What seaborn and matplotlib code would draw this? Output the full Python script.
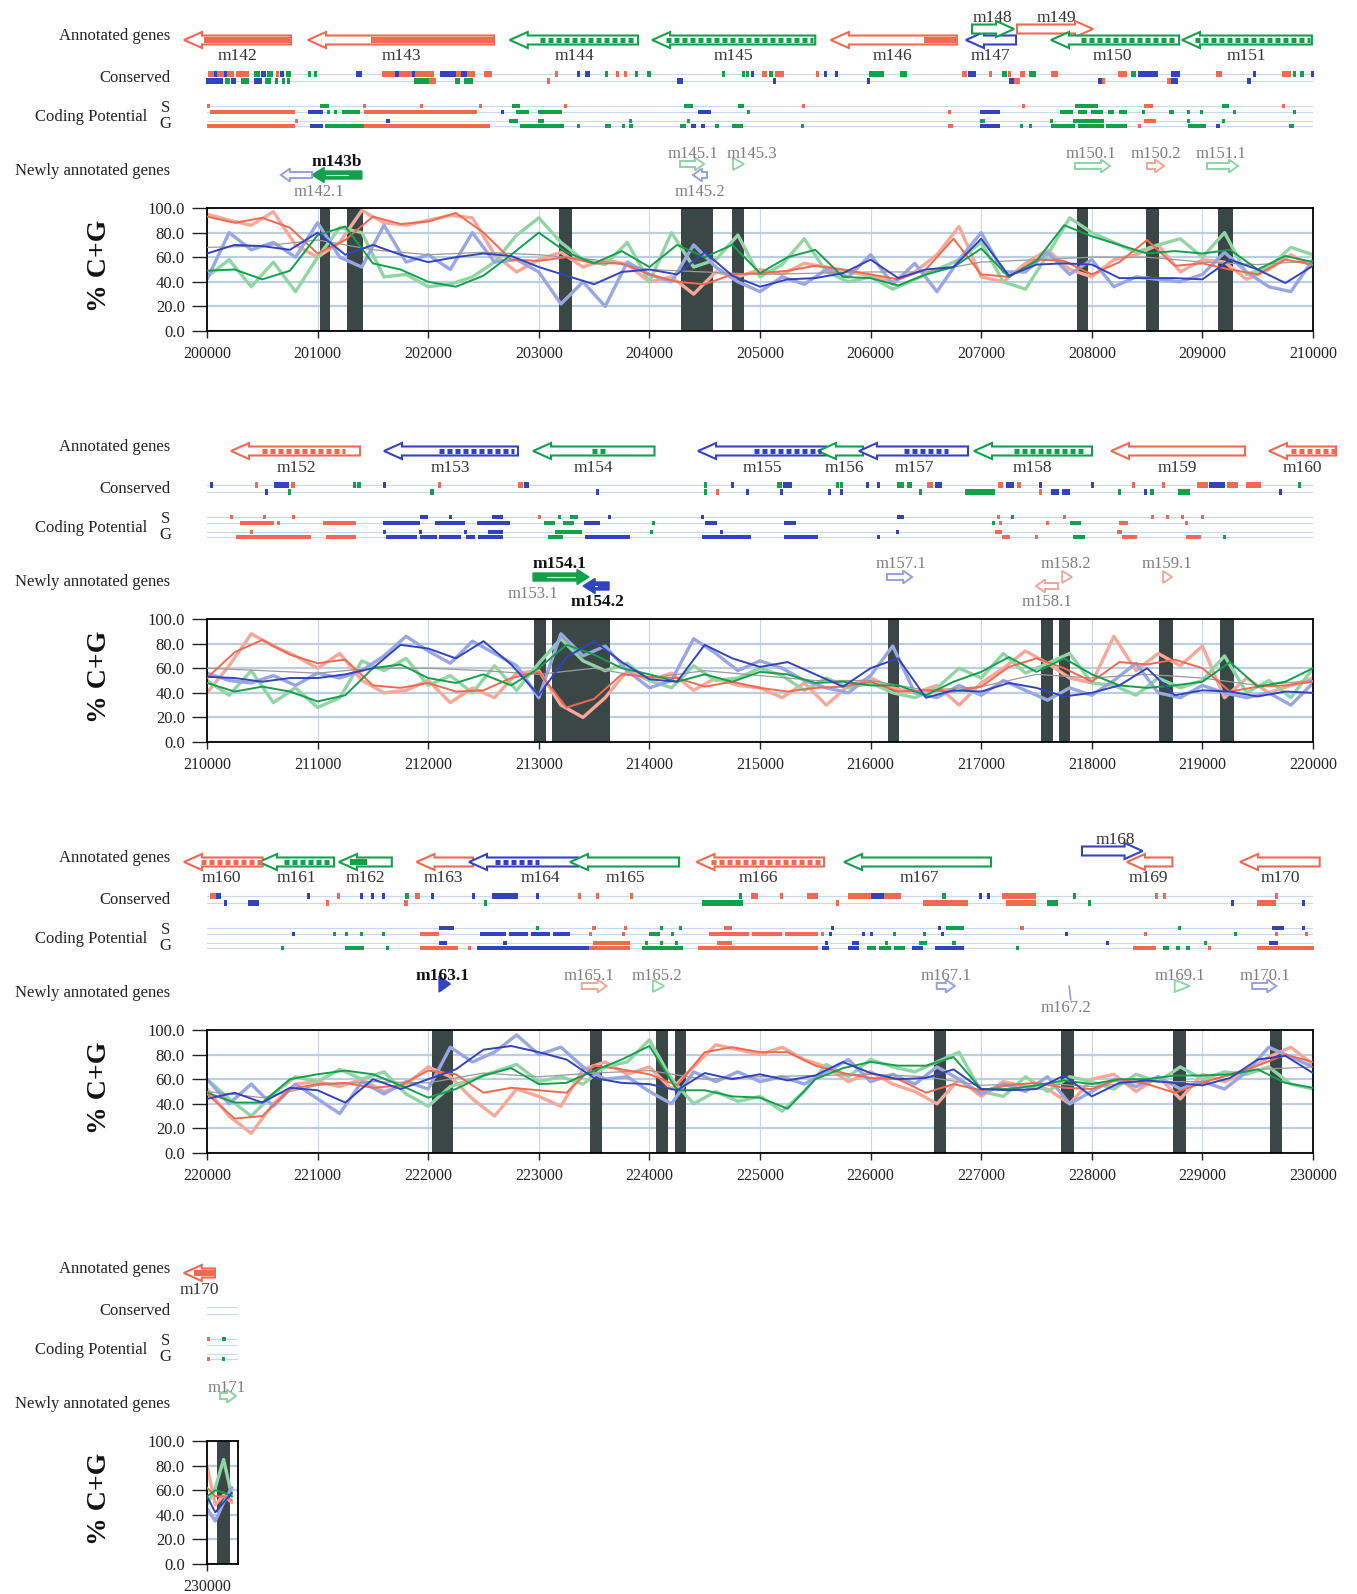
import numpy as np
import pandas as pd
import matplotlib
matplotlib.use("Agg")
import matplotlib.pyplot as plt
from matplotlib.patches import Polygon, Rectangle
import seaborn as sns

W, H = 1357, 1594

# ======================= DATA =======================
PANEL_STARTS = [200000, 210000, 220000, 230000]
PANEL_ENDS = [210000, 220000, 230000, 230280]
RAW_STEP, SMOOTH_STEP, GRAY_STEP = 200, 250, 500
Y_TICKS = [0, 20, 40, 60, 80, 100]

# ---- panel 1 : 200000-210000 ----
P1_RED_SMOOTH = [93,88,92,84,63,74,93,87,89,96, 80,58,57,60,55,55,46,40,38,46,
                 47,49,53,50,46,42,50,75,46,44, 58,57,46,56,74,53,55,50,46,58, 54]
P1_BLUE_SMOOTH = [63,70,69,66,80,62,70,62,56,60, 63,61,52,45,38,48,50,46,64,45,
                  36,42,43,47,58,43,50,52,75,45, 54,55,54,43,43,43,42,58,50,39, 53]
P1_GREEN_SMOOTH = [49,50,42,49,78,85,55,50,40,36, 45,62,80,64,55,65,52,70,60,70,
                   47,60,66,44,43,37,46,52,67,44, 57,86,77,70,63,65,63,66,50,61, 56]
P1_RED_RAW = [95,90,86,97,70,60,72,98,88,86, 90,94,92,62,48,58,64,52,58,54,
              40,44,30,48,44,50,46,55,52,48, 45,40,48,62,85,44,40,55,66,50,
              44,58,62,70,48,58,56,42,50,62, 52]
P1_BLUE_RAW = [42,80,66,72,60,88,60,52,86,56, 62,50,80,56,58,48,22,40,20,56,
               46,40,70,52,40,32,44,38,50,44, 62,38,55,32,58,80,48,48,64,46,
               58,36,44,42,40,46,64,48,36,32, 58]
P1_GREEN_RAW = [44,58,36,56,32,60,84,80,44,46, 36,38,44,56,78,92,72,58,54,72,
                40,80,52,58,78,44,54,75,48,40, 44,34,42,50,58,72,40,34,62,92,
                80,72,64,70,75,60,80,46,52,68, 62]
P1_GRAY = [68,69,74,66,62,64,62,58,50,48, 46,47,48,48,56,58,60,60,56,54, 57]
P1_BANDS = [(201018,201116),(201265,201414),(203186,203296),(204285,204578),
            (204750,204859),(207865,207962),(208488,208608),(209139,209279)]

# ---- panel 2 : 210000-220000 ----
P2_RED_SMOOTH = [52,73,83,71,64,67,46,44,48,41, 42,52,57,28,35,55,53,52,45,49,
                 44,41,44,45,49,41,42,41,45,61, 68,60,49,65,63,67,60,41,45,46, 49]
P2_BLUE_SMOOTH = [53,52,49,52,52,55,60,79,76,68, 82,63,38,69,82,65,51,49,79,68,
                  61,65,55,45,60,68,36,42,41,48, 44,37,40,46,60,38,42,41,37,41, 40]
P2_GREEN_SMOOTH = [48,41,45,41,33,38,60,63,52,48, 55,46,60,79,71,60,55,49,55,49,
                   57,55,48,49,46,46,38,49,57,69, 57,68,55,46,44,46,49,65,45,49, 60]
P2_RED_RAW = [40,62,88,78,70,60,72,50,40,42, 50,32,44,36,56,58,30,20,36,58,
              50,56,42,52,46,44,36,48,30,46, 52,44,40,46,30,48,60,74,64,52,
              48,86,58,72,62,78,36,52,40,46, 52]
P2_BLUE_RAW = [56,50,48,54,46,56,52,58,70,86, 74,64,82,72,62,36,88,70,78,58,
               44,50,84,72,58,66,60,50,44,40, 54,78,40,36,46,38,50,42,34,44,
               38,50,64,40,36,46,40,36,40,30, 48]
P2_GREEN_RAW = [50,38,58,32,44,28,36,66,58,68, 46,54,40,62,42,64,84,66,58,64,
                50,44,62,50,52,60,54,42,52,44, 48,40,36,44,60,52,72,56,64,72,
                48,46,38,52,44,50,70,40,50,36, 60]
P2_GRAY = [60,58,56,60,60,58,55,60,52,58, 54,50,50,42,45,55,52,55,52,46, 50]
P2_BANDS = [(212957,213069),(213121,213647),(216159,216258),(217540,217652),
            (217704,217803),(218605,218737),(219163,219282)]

# ---- panel 3 : 220000-230000 ----
P3_RED_SMOOTH = [48,28,30,52,56,57,53,55,67,64, 49,53,51,49,71,68,64,55,82,86,
                 82,82,71,65,61,60,49,56,51,55, 57,53,52,60,56,49,57,64,71,80, 74]
P3_BLUE_SMOOTH = [44,49,41,53,51,41,60,52,60,68, 84,87,82,76,61,57,56,51,65,60,
                  64,59,63,74,65,60,61,68,52,51, 52,63,46,57,59,57,55,61,76,79, 65]
P3_GREEN_SMOOTH = [49,41,41,60,64,67,64,55,45,52, 63,69,56,57,67,76,87,51,51,46,
                   45,36,60,69,74,71,71,78,52,52, 55,59,56,60,60,63,63,64,68,57, 53]
P3_RED_RAW = [52,30,16,40,56,58,54,60,50,56, 70,62,44,30,52,46,38,68,74,64,
              70,52,70,88,84,80,86,76,70,58, 66,56,50,40,60,46,58,54,52,40,
              60,64,50,62,44,64,58,66,78,86, 72]
P3_BLUE_RAW = [60,40,56,38,56,44,32,58,48,58, 52,86,74,82,96,80,86,70,60,62,
               50,40,66,58,66,58,62,56,66,76, 58,64,56,70,60,48,56,50,62,40,
               50,60,54,62,52,58,52,66,86,78, 70]
P3_GREEN_RAW = [60,44,30,48,62,58,68,60,66,48, 38,54,60,66,72,58,62,56,70,74,
                92,60,40,50,42,46,34,50,72,62, 76,70,66,74,82,50,46,62,50,62,
                58,52,64,58,70,60,66,64,70,56, 52]
P3_GRAY = [50,45,55,58,57,65,62,65,67,60, 62,63,64,62,55,57,54,58,58,68, 70]
P3_BANDS = [(222030,222227),(223463,223575),(224061,224166),(224232,224331),
            (226573,226686),(227717,227843),(228737,228855),(229611,229723)]

# ---- panel 4 : 230000-230280 ----
P4_POS = [230000, 230075, 230150, 230225]
P4_RED_RAW = [80, 48, 56, 50]
P4_RED_SMOOTH = [62, 55, 55, 52]
P4_BLUE_RAW = [45, 35, 50, 62]
P4_BLUE_SMOOTH = [55, 42, 50, 58]
P4_GREEN_RAW = [48, 62, 85, 55]
P4_GREEN_SMOOTH = [55, 60, 58, 55]
P4_BANDS = [(230090, 230210)]

# ---- annotated genes: (name, left, right, strand, colour, fill_left, fill_right, fill, row, label_x)
P1_GENES = [
    ('m142', 199792, 200760, '-', 'r', 199973, 200760, 'solid', 0, 200280),
    ('m143', 200913, 202595, '-', 'r', 201483, 202595, 'solid', 0, 201754),
    ('m144', 202737, 203897, '-', 'g', 203010, 203870, 'dash', 0, 203326),
    ('m145', 204025, 205500, '-', 'g', 204150, 205480, 'dash', 0, 204756),
    ('m146', 205640, 206780, '-', 'r', 206480, 206780, 'solid', 0, 206200),
    ('m147', 206862, 207315, '-', 'b', 0, 0, 'none', 0, 207080),
    ('m148', 206917, 207297, '+', 'g', 0, 0, 'none', 1, 207100),
    ('m149', 207324, 208011, '+', 'r', 0, 0, 'none', 1, 207676),
    ('m150', 207631, 208789, '-', 'g', 207900, 208770, 'dash', 0, 208190),
    ('m151', 208815, 209990, '-', 'g', 208930, 209970, 'dash', 0, 209400),
]
P2_GENES = [
    ('m152', 210217, 211383, '-', 'r', 210500, 211250, 'dash', 0, 210805),
    ('m153', 211600, 212812, '-', 'b', 212100, 212780, 'dash', 0, 212197),
    ('m154', 212948, 214046, '-', 'g', 213480, 213600, 'dash', 0, 213490),
    ('m155', 214440, 215597, '-', 'b', 214950, 215550, 'dash', 0, 215018),
    ('m156', 215524, 215931, '-', 'g', 0, 0, 'none', 0, 215760),
    ('m157', 215895, 216881, '-', 'b', 216300, 216700, 'dash', 0, 216393),
    ('m158', 216935, 218002, '-', 'g', 217300, 217950, 'dash', 0, 217459),
    ('m159', 218174, 219385, '-', 'r', 0, 0, 'none', 0, 218770),
    ('m160', 219602, 220208, '-', 'r', 219800, 220208, 'dash', 0, 219900),
]
P3_GENES = [
    ('m160', 219792, 220503, '-', 'r', 219950, 220503, 'dash', 0, 220126),
    ('m161', 220470, 221148, '-', 'g', 220700, 221120, 'dash', 0, 220805),
    ('m162', 221193, 221671, '-', 'g', 221290, 221450, 'solid', 0, 221437),
    ('m163', 221894, 222405, '-', 'r', 0, 0, 'none', 0, 222134),
    ('m164', 222369, 223354, '-', 'b', 222600, 223000, 'dash', 0, 223011),
    ('m165', 223282, 224268, '-', 'g', 0, 0, 'none', 0, 223779),
    ('m166', 224426, 225579, '-', 'r', 224560, 225560, 'dash', 0, 224982),
    ('m167', 225760, 227089, '-', 'g', 0, 0, 'none', 0, 226442),
    ('m168', 227911, 228459, '+', 'b', 0, 0, 'none', 1, 228210),
    ('m169', 228318, 228729, '-', 'r', 0, 0, 'none', 0, 228513),
    ('m170', 229340, 230060, '-', 'r', 0, 0, 'none', 0, 229702),
]
P4_GENES = [
    ('m170', 229790, 230072, '-', 'r', 229880, 230072, 'solid', 0, 229928),
]

# ---- conserved elements (start, end, colour) ----
P1_CONS_TOP = [(200011,200060,'r'),(200060,200090,'b'),(200090,200150,'r'),(200150,200170,'b'),
    (200170,200246,'r'),(200265,200383,'r'),(200422,200480,'g'),(200490,200530,'b'),(200540,200600,'g'),
    (200620,200650,'r'),(200660,200700,'b'),(200710,200755,'g'),(200912,200940,'g'),(200965,200991,'g'),
    (201343,201402,'b'),(201579,201700,'r'),(201700,201740,'b'),(201740,201850,'r'),(201850,201880,'b'),
    (201880,202050,'r'),(202108,202250,'b'),(202250,202300,'r'),(202300,202350,'b'),(202350,202421,'r'),
    (202500,202578,'r'),(203147,203170,'r'),(203344,203360,'b'),(203420,203461,'b'),(203598,203620,'g'),
    (203696,203720,'r'),(203770,203794,'r'),(203873,203900,'g'),(203980,204010,'g'),(204656,204680,'g'),
    (204840,204858,'g'),(204870,204885,'g'),(204919,204940,'b'),(205018,205060,'r'),(205080,205120,'g'),
    (205140,205217,'r'),(205506,205525,'r'),(205579,205595,'b'),(205680,205695,'b'),(205985,206121,'g'),
    (206266,206329,'g'),(206826,206870,'r'),(206880,206953,'b'),(207071,207085,'r'),(207189,207230,'g'),
    (207240,207270,'r'),(207351,207400,'r'),(207430,207496,'g'),(207631,207694,'r'),(208237,208318,'r'),
    (208354,208400,'g'),(208420,208599,'b'),(208716,208797,'b'),(209123,209177,'r'),(209457,209475,'b'),
    (209720,209800,'r'),(209820,209850,'g'),(209880,209918,'g'),(209982,210000,'b')]
P1_CONS_BOT = [(199990,200147,'b'),(200167,200210,'g'),(200220,200265,'b'),(200305,200383,'g'),
    (200422,200500,'b'),(200520,200579,'g'),(200618,200640,'g'),(200680,200700,'g'),(200720,200736,'g'),
    (201873,202010,'g'),(202010,202070,'r'),(202245,202290,'g'),(202325,202405,'g'),(203076,203095,'r'),
    (204250,204300,'b'),(205118,205140,'b'),(205967,205985,'b'),(207252,207300,'b'),(207300,207351,'r'),
    (208056,208090,'b'),(208090,208110,'r'),(208680,208720,'r'),(208720,208779,'b'),(209403,209439,'b')]
P2_CONS_TOP = [(210027,210050,'b'),(210434,210450,'r'),(210606,210741,'b'),(210760,210800,'r'),
    (211320,211345,'g'),(211360,211380,'g'),(211591,211610,'b'),(212090,212115,'r'),(212812,212860,'r'),
    (212870,212911,'b'),(214495,214510,'g'),(214740,214760,'b'),(215154,215200,'g'),(215210,215290,'b'),
    (215690,215700,'g'),(215725,215740,'g'),(215960,215980,'b'),(216060,216080,'b'),(216239,216300,'g'),
    (216330,216375,'g'),(216510,216560,'r'),(216580,216646,'b'),(217152,217200,'r'),(217220,217300,'b'),
    (217320,217360,'r'),(217525,217540,'b'),(217995,218010,'b'),(218365,218385,'r'),(218635,218655,'r'),
    (218951,219050,'r'),(219060,219200,'b'),(219220,219322,'r'),(219394,219530,'r'),(219865,219880,'g')]
P2_CONS_BOT = [(210525,210545,'b'),(210735,210760,'g'),(212020,212045,'g'),(213520,213540,'b'),
    (214495,214510,'g'),(214605,214625,'r'),(214875,214895,'b'),(215180,215200,'b'),(215618,215635,'b'),
    (215725,215740,'b'),(216435,216450,'g'),(216853,217121,'g'),(217525,217545,'r'),(217631,217700,'b'),
    (217730,217803,'b'),(218235,218255,'g'),(218475,218490,'b'),(218530,218545,'g'),(218779,218888,'g'),
    (219695,219715,'b')]
P3_CONS_TOP = [(220028,220080,'r'),(220080,220129,'b'),(220905,220920,'b'),(221175,221190,'r'),
    (221380,221395,'b'),(221480,221495,'b'),(221585,221600,'b'),(221792,221830,'g'),(221880,221928,'r'),
    (222025,222040,'b'),(222398,222410,'b'),(222573,222811,'b'),(222975,222990,'b'),(223350,223362,'r'),
    (223518,223530,'r'),(223825,223840,'r'),(224808,224820,'g'),(224915,224983,'r'),(225180,225195,'r'),
    (225424,225526,'r'),(225797,226000,'r'),(226000,226120,'b'),(226120,226273,'r'),(226646,226680,'g'),
    (226980,226995,'b'),(227048,227062,'b'),(227189,227495,'r'),(227830,227845,'g'),(228575,228590,'r'),
    (228643,228655,'r'),(229660,229675,'r')]
P3_CONS_BOT = [(220155,220180,'b'),(220367,220469,'b'),(221075,221090,'r'),(221785,221800,'r'),
    (222500,222515,'g'),(224474,224847,'g'),(225690,225705,'r'),(226476,226883,'r'),(227223,227495,'r'),
    (227596,227698,'g'),(227965,227980,'g'),(229255,229270,'b'),(229497,229667,'r'),(229900,229915,'b')]
P4_CONS_TOP = []
P4_CONS_BOT = []

# ---- coding potential rows S1, S2, G1, G2 (start, end, colour) ----
P1_S1 = [(200000,200030,'r'),(201026,201104,'g'),(201414,201440,'r'),(201924,201945,'r'),(202460,202480,'r'),
    (202755,202833,'g'),(203225,203245,'r'),(204313,204394,'g'),(204801,204856,'g'),(205380,205400,'r'),
    (207369,207390,'r'),(207848,208056,'g'),(208472,208553,'r'),(209177,209240,'g'),(209720,209750,'r')]
P1_S2 = [(200030,200795,'r'),(200912,201049,'b'),(201088,201110,'g'),(201147,201170,'g'),(201225,201382,'g'),
    (201421,202440,'r'),(202657,202680,'b'),(202794,202912,'g'),(202990,203206,'g'),(204439,204557,'b'),
    (204883,204900,'g'),(206700,206730,'r'),(206989,207170,'b'),(207712,207830,'g'),(207875,207960,'g'),
    (207990,208100,'g'),(208150,208200,'g'),(208250,208318,'g'),(208450,208470,'g'),(208700,208740,'g'),
    (208860,208890,'g'),(208980,209000,'g'),(209280,209300,'g'),(209820,209840,'g')]
P1_G1 = [(200795,200815,'r'),(201618,201657,'b'),(202735,202814,'g'),(202990,203049,'g'),(203814,203830,'g'),
    (204340,204360,'g'),(206990,207030,'g'),(207620,207640,'g'),(207830,208110,'g'),(208472,208580,'r'),
    (208860,208880,'g'),(209177,209195,'g')]
P1_G2 = [(200003,200795,'r'),(200932,201049,'b'),(201069,201421,'g'),(201421,202559,'r'),(202833,203225,'g'),
    (203343,203360,'g'),(203598,203657,'g'),(203755,203770,'g'),(203814,203853,'g'),(204277,204330,'g'),
    (204380,204420,'b'),(204470,204500,'b'),(204590,204630,'g'),(204750,204850,'g'),(205370,205390,'g'),
    (206700,206745,'r'),(206989,207170,'b'),(207350,207380,'g'),(207430,207460,'g'),(207631,207848,'g'),
    (207875,208110,'g'),(208130,208318,'g'),(208420,208440,'r'),(208870,209030,'g'),(209120,209160,'b'),
    (209780,209830,'g')]
P2_S1 = [(210210,210230,'r'),(210505,210525,'r'),(210770,210790,'r'),(211926,211998,'b'),(212190,212210,'b'),
    (212573,212674,'b'),(212995,213015,'r'),(213175,213195,'g'),(213282,213354,'g'),(213628,213645,'b'),
    (214470,214490,'b'),(216239,216303,'b'),(217145,217165,'r'),(217270,217290,'g'),(217740,217760,'r'),
    (218535,218555,'r'),(218672,218690,'r'),(218808,218825,'r'),(218988,219005,'r')]
P2_S2 = [(210298,210606,'r'),(210635,210655,'r'),(211049,211347,'r'),(211591,211926,'b'),(212062,212333,'b'),
    (212437,212740,'b'),(213047,213147,'g'),(213219,213318,'g'),(213409,213553,'b'),(214025,214040,'g'),
    (214507,214611,'b'),(215217,215326,'b'),(217100,217120,'g'),(217162,217180,'r'),(217588,217605,'r'),
    (217803,217902,'g'),(218242,218323,'r'),(218845,218860,'r')]
P2_G1 = [(210390,210410,'r'),(211592,211610,'b'),(211918,211935,'b'),(212325,212340,'b'),(212541,212677,'b'),
    (213147,213391,'g'),(214008,214022,'g'),(214640,214655,'b'),(216232,216248,'b'),(217125,217188,'r'),
    (218228,218273,'r')]
P2_G2 = [(210262,210940,'r'),(211076,211347,'r'),(211618,211900,'b'),(211930,212080,'b'),(212100,212300,'b'),
    (212340,212420,'b'),(212450,212676,'b'),(213083,213219,'g'),(213418,213825,'b'),(214476,214915,'b'),
    (215217,215524,'b'),(216060,216075,'b'),(217188,217260,'r'),(217490,217505,'r'),(217830,217938,'g'),
    (218273,218408,'r'),(218852,218987,'r'),(219185,219200,'g')]
P3_S1 = [(222098,222234,'b'),(222975,222990,'g'),(223485,223500,'r'),(223770,223785,'r'),(224095,224110,'g'),
    (224265,224280,'g'),(224677,224745,'r'),(225640,225660,'b'),(226612,226630,'b'),(226680,226849,'g'),
    (227355,227370,'r'),(228780,228795,'g'),(229633,229735,'b'),(229900,229915,'b')]
P3_S2 = [(220770,220785,'b'),(221140,221155,'g'),(221245,221260,'g'),(221380,221395,'g'),(221585,221600,'g'),
    (221928,222098,'r'),(222471,222700,'b'),(222730,222900,'b'),(222930,223100,'b'),(223130,223286,'b'),
    (223450,223465,'r'),(223755,223770,'r'),(223999,224100,'g'),(224195,224210,'g'),(224541,224900,'r'),
    (224930,225200,'r'),(225230,225526,'r'),(225555,225570,'r'),(225620,225635,'b'),(225925,225940,'b'),
    (225995,226010,'b'),(226200,226215,'g'),(226470,226485,'g'),(226640,226655,'b'),(227760,227775,'b'),
    (228470,228485,'r'),(229285,229300,'g'),(229660,229675,'r'),(229930,229945,'r')]
P3_G1 = [(222098,222166,'b'),(222675,222709,'b'),(223489,223829,'r'),(223958,223972,'g'),(224095,224105,'g'),
    (224230,224242,'g'),(224609,224745,'r'),(225588,225600,'b'),(225831,225899,'b'),(226130,226145,'g'),
    (226442,226510,'g'),(226740,226755,'g'),(228132,228146,'b'),(229015,229030,'g'),(229599,229680,'b')]
P3_G2 = [(220665,220680,'g'),(221249,221419,'g'),(221615,221630,'g'),(221928,222268,'r'),(222362,222376,'r'),
    (222437,223455,'b'),(223455,223829,'r'),(223931,224304,'g'),(224440,225526,'r'),(225560,225628,'b'),
    (225797,225899,'b'),(225967,226050,'g'),(226080,226180,'g'),(226210,226307,'g'),(226374,226476,'b'),
    (226578,226849,'b'),(227318,227332,'g'),(228376,228580,'r'),(228648,228700,'g'),(228760,228800,'g'),
    (228850,228886,'g'),(229050,229065,'r'),(229497,230006,'r')]
P4_S1 = [(230000,230020,'r'),(230140,230155,'g')]
P4_S2 = []
P4_G1 = []
P4_G2 = [(230000,230015,'r'),(230135,230160,'g')]

# ---- newly annotated genes: (name, left, right, strand, colour, style, y_arrow, label_x, label_y, bold)
P1_NEW = [
    ('m143b', 200950, 201400, '-', 'g', 'solid', 175, 201175, 160, True),
    ('m142.1', 200669, 200950, '-', 'b', 'light', 175, 201013, 191, False),
    ('m145.1', 204277, 204494, '+', 'g', 'light', 164, 204394, 153, False),
    ('m145.3', 204756, 204856, '+', 'g', 'head', 164, 204930, 153, False),
    ('m145.2', 204394, 204521, '-', 'b', 'light', 175, 204458, 190, False),
    ('m150.1', 207848, 208165, '+', 'g', 'light', 166, 207993, 153, False),
    ('m150.2', 208499, 208653, '+', 'r', 'light', 166, 208580, 153, False),
    ('m151.1', 209042, 209322, '+', 'g', 'light', 166, 209168, 153, False),
]
P2_NEW = [
    ('m154.1', 212948, 213454, '+', 'g', 'solid', 166, 213183, 151, True),
    ('m154.2', 213400, 213635, '-', 'b', 'solid', 175, 213526, 189, True),
    ('m153.1', 0, 0, '+', 'r', 'none', 181, 212948, 181, False),
    ('m157.1', 216148, 216375, '+', 'b', 'light', 166, 216275, 152, False),
    ('m158.2', 217731, 217821, '+', 'r', 'head', 166, 217767, 152, False),
    ('m158.1', 217496, 217695, '-', 'r', 'light', 175, 217595, 189, False),
    ('m159.1', 218644, 218725, '+', 'r', 'head', 166, 218680, 152, False),
]
P3_NEW = [
    ('m163.1', 222098, 222200, '+', 'b', 'solidhead', 162, 222132, 153, True),
    ('m165.1', 223388, 223612, '+', 'r', 'light', 164, 223455, 153, False),
    ('m165.2', 224032, 224134, '+', 'g', 'head', 164, 224066, 153, False),
    ('m167.1', 226598, 226761, '+', 'b', 'light', 164, 226680, 153, False),
    ('m167.2', 227795, 227810, '-', 'b', 'thin', 171, 227766, 185, False),
    ('m169.1', 228750, 228886, '+', 'g', 'head', 164, 228797, 153, False),
    ('m170.1', 229450, 229667, '+', 'b', 'light', 164, 229565, 153, False),
]
P4_NEW = [
    ('m171', 230118, 230262, '+', 'g', 'light', 163, 230180, 153, False),
]

TRACK_LABELS = ['Annotated genes', 'Conserved', 'Coding Potential', 'Newly annotated genes']

# ======================= STYLE =======================
sns.set_theme(style='white')
plt.rcParams['font.family'] = ['Liberation Serif', 'DejaVu Serif']
plt.rcParams['axes.unicode_minus'] = False

COL = {'r': '#ef6a50', 'g': '#13a04b', 'b': '#3244bd'}
RAWC = {'r': '#f7a898', 'g': '#92d5a4', 'b': '#98a6e4'}
LIGHT = {'r': '#f5a594', 'g': '#8fd3a2', 'b': '#93a1e2'}
BAND = '#3b4747'
ROWLINE = '#c9d8ea'
BP_PX = 10000 / 1106.0
PANEL_DY = 411
MIN_W = 28
BASE_OFF = 5.5   # pixel offset from visual text centre to baseline

def fx(px):
    return px / W

def fy(py):
    return 1 - py / H

def arrow_poly(left, right, strand, yc, sh, hh, hl):
    hl = min(hl, right - left)
    if strand == '+':
        b = right - hl
        return [(left, yc - sh), (b, yc - sh), (b, yc - hh), (right, yc),
                (b, yc + hh), (b, yc + sh), (left, yc + sh)]
    b = left + hl
    return [(right, yc - sh), (b, yc - sh), (b, yc - hh), (left, yc),
            (b, yc + hh), (b, yc + sh), (right, yc + sh)]

def draw_feats(tax, feats, y, h):
    for c in 'rgb':
        xr = [(a, max(b - a, MIN_W)) for a, b, cc in feats if cc == c]
        if xr:
            tax.broken_barh(xr, (y - h / 2, h), facecolors=COL[c], edgecolor='none', clip_on=False)

panels = [
    dict(raw={'r': P1_RED_RAW, 'g': P1_GREEN_RAW, 'b': P1_BLUE_RAW},
         smooth={'r': P1_RED_SMOOTH, 'g': P1_GREEN_SMOOTH, 'b': P1_BLUE_SMOOTH},
         gray=P1_GRAY, bands=P1_BANDS, genes=P1_GENES, ct=P1_CONS_TOP, cb=P1_CONS_BOT,
         s1=P1_S1, s2=P1_S2, g1=P1_G1, g2=P1_G2, new=P1_NEW),
    dict(raw={'r': P2_RED_RAW, 'g': P2_GREEN_RAW, 'b': P2_BLUE_RAW},
         smooth={'r': P2_RED_SMOOTH, 'g': P2_GREEN_SMOOTH, 'b': P2_BLUE_SMOOTH},
         gray=P2_GRAY, bands=P2_BANDS, genes=P2_GENES, ct=P2_CONS_TOP, cb=P2_CONS_BOT,
         s1=P2_S1, s2=P2_S2, g1=P2_G1, g2=P2_G2, new=P2_NEW),
    dict(raw={'r': P3_RED_RAW, 'g': P3_GREEN_RAW, 'b': P3_BLUE_RAW},
         smooth={'r': P3_RED_SMOOTH, 'g': P3_GREEN_SMOOTH, 'b': P3_BLUE_SMOOTH},
         gray=P3_GRAY, bands=P3_BANDS, genes=P3_GENES, ct=P3_CONS_TOP, cb=P3_CONS_BOT,
         s1=P3_S1, s2=P3_S2, g1=P3_G1, g2=P3_G2, new=P3_NEW),
    dict(raw={'r': P4_RED_RAW, 'g': P4_GREEN_RAW, 'b': P4_BLUE_RAW},
         smooth={'r': P4_RED_SMOOTH, 'g': P4_GREEN_SMOOTH, 'b': P4_BLUE_SMOOTH},
         gray=None, bands=P4_BANDS, genes=P4_GENES, ct=P4_CONS_TOP, cb=P4_CONS_BOT,
         s1=P4_S1, s2=P4_S2, g1=P4_G1, g2=P4_G2, new=P4_NEW),
]

fig = plt.figure(figsize=(W / 100, H / 100), dpi=100, facecolor='white')

for k, P in enumerate(panels):
    x0, x1 = PANEL_STARTS[k], PANEL_ENDS[k]
    wpx = (x1 - x0) / BP_PX
    oy = PANEL_DY * k

    # ---------------- line chart ----------------
    ax = fig.add_axes([fx(207), fy(oy + 208 + 123), fx(wpx), 123 / H])
    ax.set_axisbelow(True)
    for a, b in P['bands']:
        ax.axvspan(a, b, color=BAND, lw=0, zorder=1)
    for c in ['r', 'g', 'b']:
        vals = P['raw'][c]
        pos = P4_POS if k == 3 else list(range(x0, x0 + RAW_STEP * len(vals), RAW_STEP))
        sns.lineplot(x=pos, y=vals, ax=ax, color=RAWC[c], linewidth=2.4,
                     estimator=None, sort=False, legend=False, zorder=2)
    if P['gray'] is not None:
        gpos = list(range(x0, x0 + GRAY_STEP * len(P['gray']), GRAY_STEP))
        sns.lineplot(x=gpos, y=P['gray'], ax=ax, color='#9a9a9a', linewidth=0.9,
                     estimator=None, sort=False, legend=False, zorder=3)
    for c in ['r', 'g', 'b']:
        vals = P['smooth'][c]
        pos = P4_POS if k == 3 else list(range(x0, x0 + SMOOTH_STEP * len(vals), SMOOTH_STEP))
        sns.lineplot(x=pos, y=vals, ax=ax, color=COL[c], linewidth=1.4,
                     estimator=None, sort=False, legend=False, zorder=4)
    ax.set_xlim(x0, x1)
    ax.set_ylim(0, 100)
    ax.set_xlabel('')
    ax.set_ylabel('')
    ax.set_yticks(Y_TICKS)
    ax.set_yticklabels(['%.1f' % t for t in Y_TICKS])
    xt = list(range(x0, x1 + 1, 1000))
    ax.set_xticks(xt)
    ax.set_xticklabels([str(t) for t in xt])
    ax.yaxis.grid(True, color='#bccfe2', lw=1.6)
    ax.xaxis.grid(True, color='#c7d7e8', lw=0.8)
    for s in ax.spines.values():
        s.set_color('black')
        s.set_linewidth(1.3)
        s.set_visible(True)
    ax.tick_params(axis='y', direction='out', length=11, width=1.0, pad=5,
                   labelsize=12, colors='#222222', left=True)
    ax.tick_params(axis='x', direction='out', length=5, width=1.0, pad=6,
                   labelsize=11.5, colors='#222222', bottom=True)
    fig.text(fx(99), fy(oy + 208 + 58), '% C+G', rotation=90, ha='center', va='center',
             fontsize=20, fontweight='bold', color='#111111')

    # ---------------- tracks ----------------
    tax = fig.add_axes([fx(207), fy(oy + 200), fx(wpx), 200 / H])
    tax.set_xlim(x0, x1)
    tax.set_ylim(200, 0)
    tax.axis('off')

    for yr in [74, 81, 106, 112, 121, 126]:
        tax.plot([x0, x1], [yr, yr], color=ROWLINE, lw=0.8, zorder=0)

    draw_feats(tax, P['ct'], 74, 5.5)
    draw_feats(tax, P['cb'], 81, 5.5)
    draw_feats(tax, P['s1'], 106, 4.0)
    draw_feats(tax, P['s2'], 112, 4.5)
    draw_feats(tax, P['g1'], 121, 4.0)
    draw_feats(tax, P['g2'], 126, 4.5)

    for (name, l, r, strand, c, fl, fr, fill, row, lx) in P['genes']:
        yc = 40 if row == 0 else 29
        pts = arrow_poly(l, r, strand, yc, 4.5, 8.0, 18 * BP_PX)
        tax.add_patch(Polygon(pts, closed=True, facecolor='white', edgecolor=COL[c],
                              lw=1.5, clip_on=False, zorder=3))
        if fill == 'solid':
            tax.add_patch(Rectangle((fl, yc - 3.2), fr - fl, 6.4, facecolor=COL[c],
                                    edgecolor='none', clip_on=False, zorder=4))
        elif fill == 'dash':
            tax.plot([fl, fr], [yc, yc], color=COL[c], lw=3.6, linestyle=(0, (1.0, 0.6)),
                     solid_capstyle='butt', clip_on=False, zorder=4)
        ly = 55 if row == 0 else 17
        tax.text(lx, ly + BASE_OFF, name, ha='center', va='baseline', fontsize=12.5,
                 color='#333333', clip_on=False)

    for (name, l, r, strand, c, style, ya, lx, ly, bold) in P['new']:
        if style == 'light':
            pts = arrow_poly(l, r, strand, ya, 3.0, 6.5, 9 * BP_PX)
            tax.add_patch(Polygon(pts, closed=True, facecolor='white', edgecolor=LIGHT[c],
                                  lw=1.4, clip_on=False, zorder=3))
        elif style == 'head':
            pts = arrow_poly(l, r, strand, ya, 0.0, 6.0, r - l)
            tax.add_patch(Polygon(pts, closed=True, facecolor='white', edgecolor=LIGHT[c],
                                  lw=1.3, clip_on=False, zorder=3))
        elif style == 'solid':
            pts = arrow_poly(l, r, strand, ya, 4.0, 7.5, 12 * BP_PX)
            tax.add_patch(Polygon(pts, closed=True, facecolor=COL[c], edgecolor=COL[c],
                                  lw=1.0, clip_on=False, zorder=3))
            tax.plot([l + 14 * BP_PX, r - 14 * BP_PX], [ya, ya], color='white', lw=0.8,
                     clip_on=False, zorder=4)
        elif style == 'solidhead':
            pts = arrow_poly(l, r, strand, ya, 0.0, 8.0, r - l)
            tax.add_patch(Polygon(pts, closed=True, facecolor=COL[c], edgecolor=COL[c],
                                  lw=1.0, clip_on=False, zorder=3))
        elif style == 'thin':
            tax.plot([l, r], [ya - 7, ya + 7], color=LIGHT[c], lw=1.2, clip_on=False)
        if bold:
            tax.text(lx, ly + BASE_OFF, name, ha='center', va='baseline', fontsize=12.5,
                     fontweight='bold', color='#111111', clip_on=False)
        else:
            tax.text(lx, ly + BASE_OFF, name, ha='center', va='baseline', fontsize=12,
                     color='#7d7d7d', clip_on=False)

    # left side labels
    fig.text(fx(170), fy(oy + 36), TRACK_LABELS[0], ha='right', va='center', fontsize=12, color='#222222')
    fig.text(fx(170), fy(oy + 78), TRACK_LABELS[1], ha='right', va='center', fontsize=12, color='#222222')
    fig.text(fx(147), fy(oy + 117), TRACK_LABELS[2], ha='right', va='center', fontsize=12, color='#222222')
    fig.text(fx(165), fy(oy + 108), 'S', ha='center', va='center', fontsize=12, color='#222222')
    fig.text(fx(165), fy(oy + 124), 'G', ha='center', va='center', fontsize=12, color='#222222')
    fig.text(fx(170), fy(oy + 171), TRACK_LABELS[3], ha='right', va='center', fontsize=12, color='#222222')

fig.savefig('out.png', dpi=100, facecolor='white')
